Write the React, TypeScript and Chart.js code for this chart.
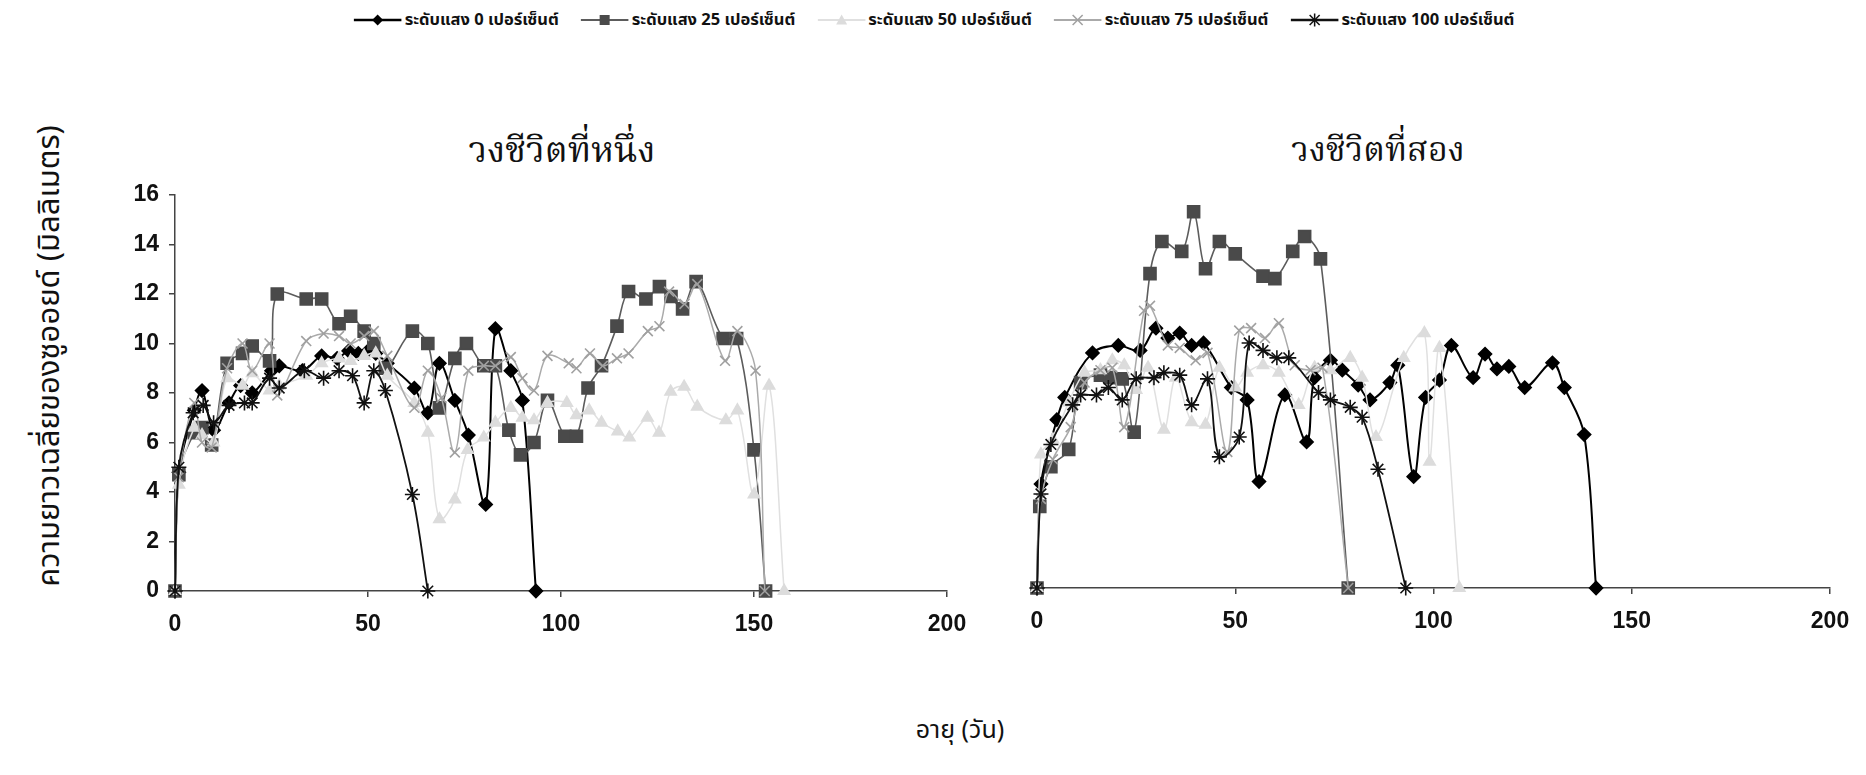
import React, { useEffect, useRef } from "react";
import { Chart, registerables } from "chart.js";

Chart.register(...registerables);

// ---------- text ----------
const LEGEND_LABELS = [
  "ระดับแสง 0 เปอร์เซ็นต์",
  "ระดับแสง 25 เปอร์เซ็นต์",
  "ระดับแสง 50 เปอร์เซ็นต์",
  "ระดับแสง 75 เปอร์เซ็นต์",
  "ระดับแสง 100 เปอร์เซ็นต์",
];
const PANEL_TITLES = ["วงชีวิตที่หนึ่ง", "วงชีวิตที่สอง"];
const Y_TITLE = "ความยาวเฉลี่ยของซูออยด์ (มิลลิเมตร)";
const X_TITLE = "อายุ (วัน)";
const X_TICKS = [0, 50, 100, 150, 200];
const Y_TICKS = [0, 2, 4, 6, 8, 10, 12, 14, 16];

// ---------- data: [day, length] ----------
// first life cycle
const cycle1Light0 = [[0,0],[1,4.8],[5,7.3],[7,8.1],[10,6.5],[14,7.6],[17,8.3],[20,8.0],[25,8.9],[27,9.1],[33,8.9],[38,9.5],[42,9.4],[45,9.7],[47.5,9.6],[50,9.7],[52,9.6],[55,9.2],[62,8.2],[65.5,7.2],[68.5,9.2],[72.5,7.7],[76,6.3],[80.5,3.5],[83,10.6],[87,8.9],[90,7.7],[93.5,0]];
const cycle1Light25 = [[0,0],[1,4.7],[5,6.4],[7,6.6],[9.5,5.9],[13.5,9.2],[17.5,9.6],[20,9.9],[24.5,9.3],[26.5,12.0],[34,11.8],[38,11.8],[42.5,10.8],[45.5,11.1],[49,10.5],[51.5,10.0],[54.5,9.0],[61.5,10.5],[65.5,10.0],[68.5,7.4],[72.5,9.4],[75.5,10.0],[80,9.1],[83,9.1],[86.5,6.5],[89.5,5.5],[93,6.0],[96.5,7.7],[101,6.25],[104,6.25],[107,8.2],[110.5,9.1],[114.5,10.7],[117.5,12.1],[122,11.8],[125.5,12.3],[128.5,11.9],[131.5,11.4],[135,12.5],[142,10.2],[145.5,10.2],[150,5.7],[153,0]];
const cycle1Light50 = [[0,0],[1,4.3],[5,6.6],[7,6.3],[10,6.0],[13.5,8.6],[17.5,8.3],[20,8.8],[24.5,8.1],[27,8.3],[34,8.7],[38,9.2],[42.5,9.4],[45.5,9.3],[49,9.5],[52,9.6],[55,8.7],[62,7.6],[65.5,6.4],[68.5,2.9],[72.5,3.7],[75.8,5.7],[80,6.2],[83,6.8],[87,7.4],[90,7.0],[93,6.9],[96.5,7.6],[101.5,7.6],[104,7.1],[107.3,7.3],[110.5,6.8],[114.7,6.45],[117.7,6.2],[122.4,7.0],[125.4,6.4],[128.4,8.05],[131.9,8.25],[135.3,7.45],[142.7,6.9],[145.7,7.3],[150,3.9],[153.9,8.3],[157.8,0]];
const cycle1Light75 = [[0,0],[1,4.6],[5,7.6],[7,6.0],[9.5,5.8],[13.5,9.0],[17.5,10.0],[20,8.9],[24.5,10.0],[26.5,7.9],[34,10.1],[38.5,10.4],[42.5,10.3],[45.5,10.0],[49,10.3],[51.5,10.5],[55,9.5],[62,7.4],[65.5,8.9],[69,7.8],[72.5,5.6],[76,8.9],[80,9.1],[83,9.1],[87,9.45],[90,8.6],[93,8.1],[96.5,9.5],[102,9.2],[104,9.0],[107.5,9.6],[110.8,9.1],[114.5,9.4],[117.5,9.6],[122.5,10.5],[125.5,10.7],[128,12.1],[132,11.6],[135.3,12.4],[142.5,9.3],[145.7,10.5],[150.4,8.9],[152.8,0]];
const cycle1Light100 = [[0,0],[1,5.0],[4.7,7.2],[7.3,7.5],[10,6.8],[14,7.5],[18,7.6],[20,7.6],[24.5,8.6],[27,8.2],[33.5,8.9],[38.5,8.6],[42.5,8.9],[46,8.7],[49,7.6],[51.5,8.9],[54.5,8.1],[61.5,3.9],[65.5,0]];

// second life cycle
const cycle2Light0 = [[0,0],[1,4.2],[5,6.8],[7,7.7],[14,9.5],[20.5,9.8],[26,9.6],[30,10.5],[33,10.1],[36,10.3],[39,9.8],[42,9.9],[49,8.1],[53,7.6],[56,4.3],[62.5,7.8],[68,5.9],[70,8.5],[74,9.2],[77,8.8],[81,8.2],[84,7.6],[89,8.3],[91,9.0],[95,4.5],[98,7.7],[101.5,8.4],[104.5,9.8],[110,8.5],[113,9.45],[116,8.85],[119,8.95],[123,8.1],[130,9.1],[133,8.1],[138,6.2],[141,0]];
const cycle2Light25 = [[0,0],[0.7,3.3],[3.5,4.9],[8,5.6],[11,8.3],[16,8.6],[18.5,8.5],[21.5,8.45],[24.5,6.3],[28.5,12.7],[31.5,14.0],[36.5,13.6],[39.5,15.2],[42.5,12.9],[46,14.0],[50,13.5],[57,12.6],[60,12.5],[64.5,13.6],[67.5,14.2],[71.5,13.3],[78.5,0]];
const cycle2Light50 = [[0,0],[1,5.4],[4,6.0],[8,7.5],[12,8.7],[16,8.8],[19,9.2],[22,9.0],[25,8.0],[28,8.9],[32,6.4],[35,8.5],[39,6.7],[42.5,6.6],[46,8.9],[50,8.1],[53,8.7],[57,9.0],[61,8.7],[66,7.4],[70,8.9],[74,8.8],[79,9.3],[82,8.5],[85.5,6.1],[92.5,9.3],[97.7,10.3],[99,5.1],[101.5,9.7],[106.5,0]];
const cycle2Light75 = [[0,0],[1,3.6],[4,5.2],[8.5,6.5],[12,8.3],[16,8.8],[19,8.9],[22,6.5],[27,11.2],[28.5,11.4],[33,9.8],[36,9.7],[40,9.2],[43,9.5],[48,5.5],[51,10.4],[54,10.5],[57.5,10.1],[61,10.7],[65,9.0],[69,8.8],[72,8.9],[78.5,0]];
const cycle2Light100 = [[0,0],[1,3.8],[3.5,5.8],[9,7.4],[11,7.8],[15,7.8],[18,8.1],[21.5,7.6],[25,8.45],[29.5,8.5],[32,8.7],[36,8.6],[39,7.4],[43,8.45],[46,5.3],[51,6.1],[53.5,9.9],[57,9.6],[60.5,9.3],[63.5,9.3],[71,7.9],[74,7.6],[79,7.3],[82,6.9],[86,4.8],[93,0]];

const CYCLE1 = [cycle1Light0, cycle1Light25, cycle1Light50, cycle1Light75, cycle1Light100];
const CYCLE2 = [cycle2Light0, cycle2Light25, cycle2Light50, cycle2Light75, cycle2Light100];

// ---------- styles ----------
const STYLES = [
  { line: "#000000", fill: "#000000", point: "rectRot", r: 6.5, bw: 2 },
  { line: "#5c5c5c", fill: "#4a4a4a", point: "rect", r: 8.5, bw: 1.6 },
  { line: "#e0e0e0", fill: "#dcdcdc", point: "triangle", r: 6.5, bw: 1.5 },
  { line: "#aaaaaa", fill: "#a0a0a0", point: "crossRot", r: 7, bw: 1.5 },
  { line: "#111111", fill: "#111111", point: "star", r: 7.5, bw: 1.8 },
];

const TICK_FONT = { family: "'Liberation Sans', Arial, sans-serif", size: 23, weight: "bold" as const };
const THAI_FONT = "'Noto Sans Thai', 'Tahoma', 'DejaVu Sans', sans-serif";
const THAI_SERIF = "'Noto Serif Thai', 'Noto Sans Thai Looped', 'Noto Sans Thai', serif";

function Panel(props: {
  series: number[][][];
  showY: boolean;
  left: number;
  top: number;
  width: number;
  height: number;
  padLeft: number;
}) {
  const ref = useRef<HTMLCanvasElement>(null);
  useEffect(() => {
    const chart = new Chart(ref.current as HTMLCanvasElement, {
      type: "line",
      data: {
        datasets: props.series.map((s, i) => ({
          label: LEGEND_LABELS[i],
          data: s.map(([x, y]) => ({ x, y })),
          borderColor: STYLES[i].line,
          backgroundColor: STYLES[i].fill,
          pointBackgroundColor: STYLES[i].fill,
          pointBorderColor: STYLES[i].fill,
          pointStyle: STYLES[i].point as any,
          pointRadius: STYLES[i].r,
          pointHoverRadius: STYLES[i].r,
          pointBorderWidth: 1.6,
          borderWidth: STYLES[i].bw,
          tension: 0.35,
          clip: false as any,
          order: 4 - i,
        })),
      },
      options: {
        responsive: false,
        animation: false,
        events: [],
        layout: { padding: { top: 15, right: 20, left: props.padLeft, bottom: 0 } },
        plugins: { legend: { display: false }, tooltip: { enabled: false } },
        scales: {
          x: {
            type: "linear",
            min: 0,
            max: 200,
            afterBuildTicks: (scale: any) => {
              scale.ticks = X_TICKS.map((v) => ({ value: v }));
            },
            ticks: { color: "#111", font: TICK_FONT, padding: 14, maxRotation: 0 },
            grid: { drawOnChartArea: false, tickLength: 6, color: "#444", lineWidth: 1.5 },
            border: { color: "#444", width: 1.5 },
            afterFit: (scale: any) => {
              scale.height = 60;
              scale.paddingLeft = 0;
              scale.paddingRight = 0;
            },
          },
          y: {
            display: props.showY,
            min: 0,
            max: 16,
            afterBuildTicks: (scale: any) => {
              scale.ticks = Y_TICKS.map((v) => ({ value: v }));
            },
            ticks: { color: "#111", font: TICK_FONT, padding: 10 },
            grid: { drawOnChartArea: false, tickLength: 6, color: "#444", lineWidth: 1.5 },
            border: { color: "#444", width: 1.5 },
            afterFit: (scale: any) => {
              scale.width = props.showY ? 75 : 0;
              scale.paddingTop = 0;
              scale.paddingBottom = 0;
            },
          },
        },
      },
    });
    return () => chart.destroy();
  }, []);
  return (
    <canvas
      ref={ref}
      width={props.width}
      height={props.height}
      style={{ position: "absolute", left: props.left, top: props.top, width: props.width, height: props.height }}
    />
  );
}

function LegendMarker({ i }: { i: number }) {
  const s = STYLES[i];
  const cx = 24, cy = 10;
  let m: any = null;
  if (s.point === "rectRot") m = <polygon points={`${cx - 5.5},${cy} ${cx},${cy - 5.5} ${cx + 5.5},${cy} ${cx},${cy + 5.5}`} fill={s.fill} />;
  else if (s.point === "rect") m = <rect x={cx - 5} y={cy - 5} width={10} height={10} fill={s.fill} />;
  else if (s.point === "triangle") m = <polygon points={`${cx - 5.5},${cy + 4.5} ${cx + 5.5},${cy + 4.5} ${cx},${cy - 5.5}`} fill={s.fill} />;
  else if (s.point === "crossRot")
    m = (
      <g stroke={s.fill} strokeWidth={1.5}>
        <line x1={cx - 5} y1={cy - 5} x2={cx + 5} y2={cy + 5} />
        <line x1={cx - 5} y1={cy + 5} x2={cx + 5} y2={cy - 5} />
      </g>
    );
  else
    m = (
      <g stroke={s.fill} strokeWidth={1.5}>
        <line x1={cx - 5} y1={cy - 5} x2={cx + 5} y2={cy + 5} />
        <line x1={cx - 5} y1={cy + 5} x2={cx + 5} y2={cy - 5} />
        <line x1={cx} y1={cy - 6.5} x2={cx} y2={cy + 6.5} />
      </g>
    );
  return (
    <svg width={48} height={20} style={{ display: "block" }}>
      <line x1={0} y1={cy} x2={48} y2={cy} stroke={s.line} strokeWidth={s.bw + 0.6} />
      {m}
    </svg>
  );
}

export default function App() {
  return (
    <div style={{ position: "absolute", left: 0, top: 0, width: 1866, height: 775, background: "#fff", overflow: "hidden" }}>
      {/* legend */}
      <div
        style={{
          position: "absolute",
          top: 7,
          left: 934,
          transform: "translateX(-50%)",
          display: "flex",
          alignItems: "center",
          whiteSpace: "nowrap",
          fontFamily: THAI_FONT,
          fontWeight: "bold",
          fontSize: 16.5,
          color: "#111",
        }}
      >
        {LEGEND_LABELS.map((t, i) => (
          <div key={i} style={{ display: "flex", alignItems: "center", marginRight: i < 4 ? 22 : 0 }}>
            <LegendMarker i={i} />
            <span style={{ marginLeft: 3 }}>{t}</span>
          </div>
        ))}
      </div>

      {/* panel titles */}
      <div style={{ position: "absolute", left: 562, top: 152, transform: "translate(-50%,-50%)", fontFamily: THAI_SERIF, fontSize: 36, color: "#111", whiteSpace: "nowrap" }}>
        {PANEL_TITLES[0]}
      </div>
      <div style={{ position: "absolute", left: 1378, top: 152, transform: "translate(-50%,-50%)", fontFamily: THAI_SERIF, fontSize: 34, color: "#111", whiteSpace: "nowrap" }}>
        {PANEL_TITLES[1]}
      </div>

      {/* y title */}
      <div
        style={{
          position: "absolute",
          left: 49,
          top: 356,
          transform: "translate(-50%,-50%) rotate(-90deg)",
          fontFamily: THAI_FONT,
          fontSize: 31,
          color: "#111",
          whiteSpace: "nowrap",
        }}
      >
        {Y_TITLE}
      </div>

      {/* x title */}
      <div style={{ position: "absolute", left: 960, top: 730, transform: "translate(-50%,-50%)", fontFamily: THAI_FONT, fontSize: 25, color: "#111", whiteSpace: "nowrap" }}>
        {X_TITLE}
      </div>

      <Panel series={CYCLE1} showY={true} left={100} top={180} width={867} height={471} padLeft={0} />
      <Panel series={CYCLE2} showY={false} left={1017} top={177} width={833} height={471} padLeft={20} />
    </div>
  );
}
